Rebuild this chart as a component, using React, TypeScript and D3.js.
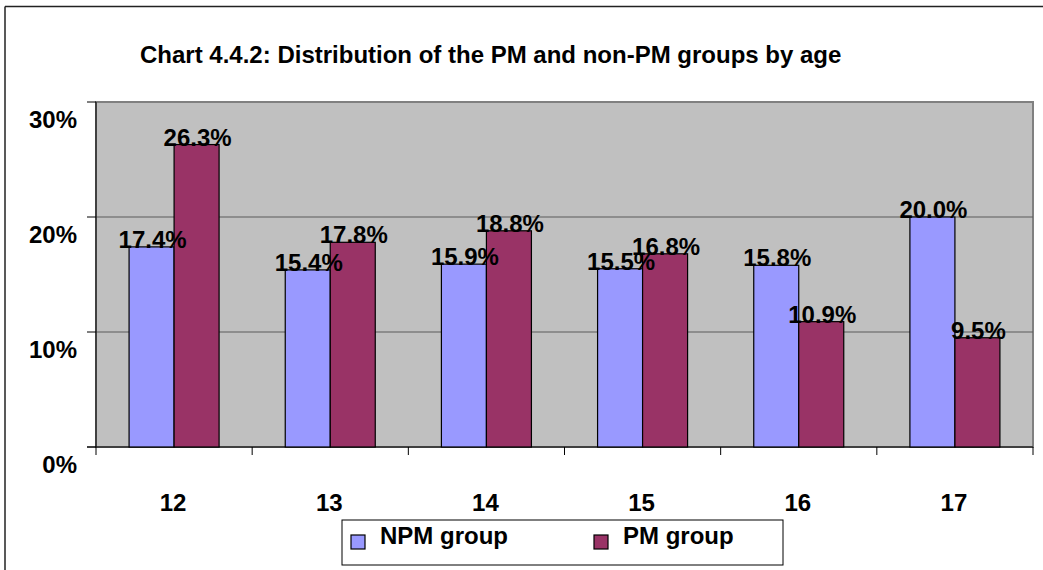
import { useEffect, useRef } from 'react'
import * as d3 from 'd3'

const ages = ['12', '13', '14', '15', '16', '17']
const npmGroup = [17.4, 15.4, 15.9, 15.5, 15.8, 20.0]
const pmGroup = [26.3, 17.8, 18.8, 16.8, 10.9, 9.5]
const seriesNames = ['NPM group', 'PM group']
const seriesColors = ['#9999ff', '#993366']
const yTicks = [0, 10, 20, 30]

const FONT = '"Liberation Sans", Arial, sans-serif'

export default function App() {
  const chartRef = useRef<SVGSVGElement | null>(null)

  useEffect(() => {
    const svg = d3.select(chartRef.current)
    svg.selectAll('*').remove()

    const width = 1043
    const height = 570
    const plot = { left: 96, right: 1033, top: 102, bottom: 447 }

    svg.attr('width', width).attr('height', height)
      .style('font-family', FONT).style('font-weight', 'bold')

    // outer frame
    svg.append('line').attr('x1', 5).attr('x2', width).attr('y1', 6.5).attr('y2', 6.5)
      .attr('stroke', '#222').attr('stroke-width', 1.5)
    svg.append('line').attr('x1', 5).attr('x2', 5).attr('y1', 6.5).attr('y2', height)
      .attr('stroke', '#222').attr('stroke-width', 1.5)

    svg.append('text')
      .attr('x', 140).attr('y', 63)
      .attr('font-size', 24)
      .text('Chart 4.4.2: Distribution of the PM and non-PM groups by age')

    const x0 = d3.scaleBand().domain(ages).range([plot.left, plot.right]).padding(0)
    const x1 = d3.scaleBand().domain(seriesNames).range([0, x0.bandwidth()])
      .paddingInner(0).paddingOuter(0.735)
    const y = d3.scaleLinear().domain([0, 30]).range([plot.bottom, plot.top])

    // plot area
    svg.append('rect')
      .attr('x', plot.left).attr('y', plot.top)
      .attr('width', plot.right - plot.left).attr('height', plot.bottom - plot.top)
      .attr('fill', '#c0c0c0').attr('stroke', '#808080').attr('stroke-width', 2)

    svg.append('g').selectAll('line')
      .data(yTicks.filter(t => t > 0 && t < 30))
      .enter().append('line')
      .attr('x1', plot.left).attr('x2', plot.right)
      .attr('y1', d => y(d)).attr('y2', d => y(d))
      .attr('stroke', '#5a5a5a').attr('stroke-width', 1.2)

    // y axis
    svg.append('line').attr('x1', plot.left).attr('x2', plot.left)
      .attr('y1', plot.top).attr('y2', plot.bottom).attr('stroke', '#000')
    svg.append('g').selectAll('line')
      .data(yTicks).enter().append('line')
      .attr('x1', 87).attr('x2', plot.left)
      .attr('y1', d => y(d)).attr('y2', d => y(d))
      .attr('stroke', '#000')
    svg.append('g').selectAll('text')
      .data(yTicks).enter().append('text')
      .attr('x', 77).attr('y', d => y(d) + 26)
      .attr('text-anchor', 'end').attr('font-size', 24)
      .text(d => `${d}%`)

    // x axis
    svg.append('line').attr('x1', 87).attr('x2', plot.right)
      .attr('y1', plot.bottom).attr('y2', plot.bottom).attr('stroke', '#000')
    const bounds = ages.map(a => x0(a) as number).concat([plot.right])
    svg.append('g').selectAll('line')
      .data(bounds).enter().append('line')
      .attr('x1', d => d).attr('x2', d => d)
      .attr('y1', plot.bottom).attr('y2', plot.bottom + 8)
      .attr('stroke', '#000')
    svg.append('g').selectAll('text')
      .data(ages).enter().append('text')
      .attr('x', d => (x0(d) as number) + x0.bandwidth() / 2 - 1)
      .attr('y', 511)
      .attr('text-anchor', 'middle').attr('font-size', 24)
      .text(d => d)

    const rows = ages.map((a, i) => ({
      age: a,
      values: [npmGroup[i], pmGroup[i]]
    }))

    const groups = svg.append('g').selectAll('g')
      .data(rows).enter().append('g')
      .attr('transform', d => `translate(${x0(d.age)},0)`)

    groups.selectAll('rect')
      .data(d => d.values.map((v, i) => ({ key: seriesNames[i], v, i })))
      .enter().append('rect')
      .attr('x', d => x1(d.key) as number)
      .attr('y', d => y(d.v))
      .attr('width', x1.bandwidth())
      .attr('height', d => plot.bottom - y(d.v))
      .attr('fill', d => seriesColors[d.i])
      .attr('stroke', '#000').attr('stroke-width', 1.2)

    groups.selectAll('text')
      .data(d => d.values.map((v, i) => ({ key: seriesNames[i], v, i })))
      .enter().append('text')
      .attr('x', d => (x1(d.key) as number) + x1.bandwidth() / 2 + 1)
      .attr('y', d => y(d.v) + 1)
      .attr('text-anchor', 'middle').attr('font-size', 24)
      .text(d => `${d.v.toFixed(1)}%`)

    // legend
    const legend = svg.append('g')
    legend.append('rect')
      .attr('x', 342).attr('y', 520).attr('width', 441).attr('height', 45)
      .attr('fill', '#fff').attr('stroke', '#000').attr('stroke-width', 1)
    const legendX = [351, 594]
    seriesNames.forEach((name, i) => {
      legend.append('rect')
        .attr('x', legendX[i]).attr('y', 535).attr('width', 14).attr('height', 14)
        .attr('fill', seriesColors[i]).attr('stroke', '#000').attr('stroke-width', 1.2)
      legend.append('text')
        .attr('x', legendX[i] + 29).attr('y', 544)
        .attr('font-size', 24)
        .text(name)
    })
  }, [])

  return (
    <div style={{ position: 'absolute', left: 0, top: 0 }}>
      <svg ref={chartRef}></svg>
    </div>
  )
}
